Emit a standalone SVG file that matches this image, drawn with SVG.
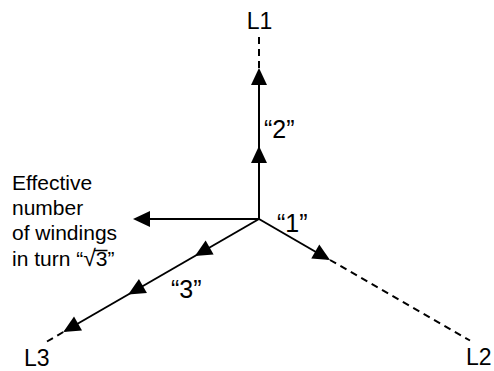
<svg xmlns="http://www.w3.org/2000/svg" width="494" height="371" viewBox="0 0 494 371">
<style>
.ln{stroke:#000;stroke-width:2;fill:none}
.ds{stroke:#000;stroke-width:2;fill:none;stroke-dasharray:7 5}
.t{font-family:"Liberation Sans",Arial,sans-serif;font-size:21px;fill:#000}
.lb{font-family:"Liberation Sans",Arial,sans-serif;font-size:23px;fill:#000}
.q{font-family:"Liberation Sans",Arial,sans-serif;font-size:25px;fill:#000}
</style>
<defs>
<polygon id="ah" points="0,0 -17,-8 -17,8" fill="#000"/>
</defs>
<rect width="494" height="371" fill="#fff"/>
<g id="connectors">
<line class="ln" x1="259" y1="219" x2="259" y2="70"/>
<line class="ds" x1="259" y1="68" x2="259" y2="36"/>
<line class="ln" x1="259" y1="219" x2="136" y2="219"/>
<line class="ln" x1="259" y1="219" x2="65" y2="331"/>
<line class="ds" x1="63.3" y1="332" x2="47" y2="341.5"/>
<line class="ln" x1="259" y1="219" x2="328" y2="259"/>
<line class="ds" x1="330" y1="260" x2="470" y2="340.5"/>
<use href="#ah" transform="translate(259,146) rotate(-90)"/>
<use href="#ah" transform="translate(259,68) rotate(-90)"/>
<use href="#ah" transform="translate(133,219) rotate(180)"/>
<use href="#ah" transform="translate(194.9,256) rotate(150)"/>
<use href="#ah" transform="translate(128.2,294.5) rotate(150)"/>
<use href="#ah" transform="translate(63.3,332) rotate(150)"/>
<use href="#ah" transform="translate(330,260) rotate(30)"/>
</g>
<g id="L1"><text class="lb" x="259.5" y="29" text-anchor="middle">L1</text></g>
<g id="L2"><text class="lb" x="466" y="365">L2</text></g>
<g id="L3"><text class="lb" x="24" y="366">L3</text></g>
<g id="w2"><text class="q" x="264" y="138">“2”</text></g>
<g id="w1"><text class="q" x="277" y="232">“1”</text></g>
<g id="w3"><text class="q" x="171" y="298">“3”</text></g>
<g id="note">
<text class="t" x="12" y="190">Effective</text>
<text class="t" x="12" y="215">number</text>
<text class="t" x="12" y="240">of windings</text>
<text class="t" x="12" y="266">in turn “<tspan font-size="23">√</tspan>3”</text>
<line x1="94" y1="250.5" x2="107.5" y2="250.5" stroke="#000" stroke-width="1.5"/>
</g>
</svg>
